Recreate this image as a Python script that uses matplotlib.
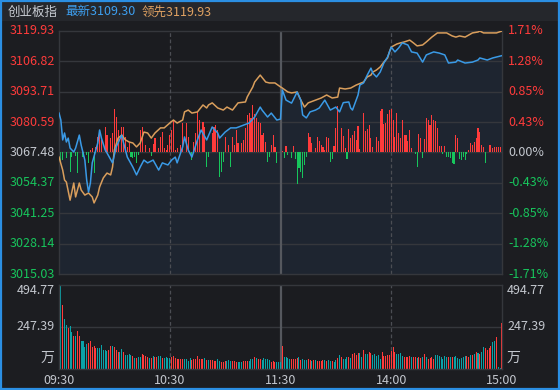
import matplotlib
matplotlib.use('Agg')
import matplotlib.pyplot as plt
from matplotlib.patches import Rectangle

plt.rcParams['font.family'] = ['Noto Sans CJK SC', 'DejaVu Sans']

# ---------------- data ----------------
prev_close = 3067.48
price_ticks = [3119.93, 3106.82, 3093.71, 3080.59, 3067.48, 3054.37, 3041.25, 3028.14, 3015.03]
pct_ticks = ['1.71%', '1.28%', '0.85%', '0.43%', '0.00%', '-0.43%', '-0.85%', '-1.28%', '-1.71%']
vol_ticks = ['494.77', '247.39']
vol_max = 494.77
time_labels = ['09:30', '10:30', '11:30', '14:00', '15:00']
time_minutes = [0, 60, 120, 180, 240]
title_name = '创业板指'
title_last = '最新3109.30'
title_lead = '领先3119.93'

blue_t = [0, 1, 2, 3, 4, 5, 6, 8, 9, 11, 12, 14, 15, 16, 17, 18, 21, 22, 23, 25, 26, 29, 31, 34, 35, 37,
          40, 42, 44, 46, 48, 51, 54, 56, 59, 61, 63, 64, 67, 68, 70, 72, 75, 77, 80, 83, 86, 87, 90, 93,
          96, 100, 103, 106, 109, 110, 113, 115, 118, 120, 121, 123, 126, 129, 131, 132, 134, 136, 139,
          141, 144, 147, 150, 152, 154, 157, 158, 159, 162, 163, 165, 167, 169, 170, 172, 174, 176, 178,
          180, 182, 184, 186, 189, 191, 194, 197, 199, 203, 206, 209, 211, 215, 216, 220, 224, 227, 228,
          232, 235, 240]
blue_p = [3084.5, 3081.5, 3072.9, 3075.9, 3072.0, 3073.7, 3069.4, 3067.7, 3069.4, 3075.0, 3070.7, 3064.2,
          3055.6, 3050.4, 3054.3, 3063.0, 3071.6, 3077.2, 3073.7, 3068.6, 3067.3, 3063.0, 3069.9, 3075.0,
          3071.6, 3065.5, 3061.2, 3057.8, 3061.2, 3064.2, 3063.0, 3064.2, 3059.9, 3063.0, 3062.1, 3064.2,
          3065.5, 3063.0, 3069.9, 3074.2, 3068.6, 3065.5, 3072.9, 3077.2, 3072.9, 3078.5, 3075.9, 3073.7,
          3076.3, 3078.1, 3078.1, 3079.3, 3080.2, 3082.8, 3087.1, 3085.8, 3082.8, 3084.5, 3081.5, 3081.9,
          3094.5, 3090.1, 3088.8, 3093.6, 3090.1, 3083.7, 3082.4, 3085.0, 3085.8, 3086.7, 3090.1, 3085.8,
          3087.1, 3085.0, 3089.0, 3089.3, 3086.7, 3085.8, 3092.3, 3096.6, 3097.5, 3100.9, 3103.9, 3101.8,
          3100.1, 3102.2, 3106.1, 3108.7, 3113.0, 3110.9, 3112.6, 3114.8, 3113.9, 3110.9, 3110.4, 3106.5,
          3109.6, 3110.9, 3110.4, 3109.6, 3106.1, 3106.5, 3107.4, 3106.1, 3106.5, 3107.4, 3108.3, 3107.4,
          3108.3, 3109.30]

orange_t = [0, 2, 3, 4, 6, 8, 9, 11, 12, 14, 16, 18, 19, 21, 22, 24, 26, 28, 29, 30, 32, 34, 36, 38, 40,
            42, 44, 46, 48, 50, 52, 55, 57, 60, 62, 64, 67, 68, 70, 72, 75, 78, 80, 81, 83, 86, 89, 91, 94,
            97, 101, 102, 105, 106, 109, 112, 114, 117, 120, 121, 124, 126, 129, 131, 133, 135, 139, 142,
            145, 148, 151, 152, 155, 158, 161, 165, 167, 169, 170, 172, 174, 176, 178, 179, 180, 183, 185,
            187, 190, 192, 194, 197, 199, 202, 205, 208, 210, 213, 215, 217, 220, 222, 224, 227, 228, 230,
            234, 237, 240]
orange_p = [3065.5, 3059.9, 3055.6, 3054.7, 3046.9, 3054.3, 3048.3, 3054.3, 3051.3, 3049.1, 3050.0,
            3048.3, 3045.7, 3049.1, 3052.6, 3056.5, 3058.6, 3057.8, 3061.2, 3068.6, 3073.7, 3075.0,
            3072.9, 3072.0, 3071.6, 3069.9, 3071.6, 3076.3, 3075.9, 3073.7, 3075.9, 3078.1, 3078.1,
            3080.2, 3081.5, 3080.2, 3081.5, 3085.0, 3085.8, 3084.5, 3085.0, 3088.0, 3086.7, 3088.0,
            3088.9, 3086.7, 3085.8, 3087.1, 3085.8, 3088.9, 3089.3, 3091.5, 3095.8, 3097.9, 3100.9,
            3097.9, 3097.5, 3097.5, 3095.8, 3095.3, 3093.6, 3093.2, 3093.6, 3090.1, 3087.1, 3088.9,
            3090.1, 3091.0, 3092.3, 3091.0, 3091.4, 3095.3, 3094.9, 3095.3, 3096.6, 3097.9, 3100.1,
            3100.9, 3102.2, 3103.1, 3104.4, 3106.5, 3108.3, 3110.9, 3113.0, 3114.3, 3114.8, 3115.2,
            3116.0, 3114.8, 3113.5, 3113.9, 3115.2, 3117.3, 3119.1, 3119.1, 3119.1, 3117.8, 3117.3,
            3117.8, 3117.3, 3118.2, 3119.1, 3119.5, 3119.9, 3119.1, 3119.1, 3119.1, 3119.93]

bar_t = [1, 2, 4, 6, 7, 9, 10, 13, 15, 16, 17, 18, 19, 20, 21, 22, 23, 25, 26, 28, 29, 30, 31, 32, 34, 35,
         36, 37, 38, 39, 40, 41, 42, 43, 44, 45, 47, 49, 50, 51, 52, 54, 55, 56, 57, 58, 59, 60, 61, 62, 63,
         64, 66, 67, 69, 70, 72, 73, 74, 75, 76, 78, 79, 80, 81, 83, 84, 85, 86, 87, 88, 89, 90, 92, 93, 94,
         95, 96, 97, 99, 100, 101, 102, 103, 104, 105, 106, 107, 108, 109, 110, 111, 112, 113, 114, 115,
         116, 117, 118, 121, 122, 123, 124, 126, 127, 128, 129, 130, 131, 132, 133, 134, 135, 136, 137,
         139, 140, 141, 142, 143, 144, 145, 146, 147, 148, 149, 150, 151, 153, 154, 155, 156, 157, 158,
         159, 160, 161, 162, 163, 165, 166, 167, 168, 169, 170, 172, 173, 174, 175, 176, 177, 178, 179,
         180, 181, 182, 183, 184, 185, 186, 187, 188, 189, 190, 191, 193, 194, 195, 196, 197, 198, 199,
         200, 201, 202, 203, 204, 205, 206, 207, 208, 209, 210, 211, 212, 213, 214, 215, 216, 217, 218,
         219, 220, 221, 222, 223, 224, 225, 226, 227, 228, 229, 230, 231, 232, 233, 234, 235, 236, 237,
         238, 239]
bar_v = [-4.5, -3.2, -2.4, -8.4, -1.9, -1.5, -8.8, -1.9, -1.1, -4.5, 1.1, 1.9, -8.8, 2.4, 6.7, 8.4, 5.4,
         11.0, 7.6, 6.3, 8.4, 18.8, 15.3, 9.7, 11.0, 11.0, 6.7, 2.4, 4.1, -1.9, -2.4, -1.9, -4.5, -1.1,
         9.7, 11.0, 3.2, 1.9, -1.5, 3.7, 6.3, 1.9, 6.7, 8.8, 1.9, 1.1, 3.2, 7.6, 9.7, 14.0, 1.1, 1.9, 3.2,
         12.7, 12.7, 6.7, -3.2, 4.5, 8.4, 17.5, 14.0, 13.2, 11.0, -6.3, -1.9, 8.4, 11.0, 11.9, 9.7, -10.6,
         -8.4, -4.1, 6.7, 3.2, -6.3, 6.7, 3.2, 9.7, 4.1, 4.1, 5.4, 10.6, 16.2, 17.1, 14.9, 20.5, 16.6,
         14.9, 13.2, 12.7, 7.6, 8.4, 4.5, -4.1, -1.9, 3.2, 7.6, 2.4, -4.5, 0.5, -2.4, 2.8, -1.1, -2.4,
         2.8, -2.8, -13.6, -6.7, -8.4, -11.0, -5.4, -1.9, 8.4, 6.7, 4.1, 1.9, 6.7, 5.0, 3.2, 2.4, 1.0,
         6.7, 6.3, -4.1, -2.8, 2.8, 10.6, 20.1, 10.6, 7.1, 1.9, -2.8, 10.1, 6.3, 7.6, 9.3, 5.4, 11.4, 1.5,
         17.1, 9.3, 10.1, 11.9, 6.3, 2.4, 6.7, 5.0, 17.9, 18.8, 12.3, 12.7, 16.6, 18.3, 18.8, 14.0, 6.7,
         17.1, 8.4, 6.3, 14.0, 7.6, 7.6, 5.0, 9.7, 1.9, -0.6, -6.3, 8.0, 6.3, -2.4, 5.8, 14.9, 14.0, 11.9,
         16.2, 14.0, 13.6, 10.6, 2.8, 2.8, -0.6, 2.8, -1.9, -1.9, -2.4, -4.5, -5.0, 7.6, 6.3, -2.8, -3.2,
         -1.9, -3.2, -0.6, 1.1, 4.1, 3.2, 4.5, 6.3, 10.6, 8.8, 3.2, 2.4, -4.5, 0.3, 3.2, 3.2, 1.9, 2.4,
         2.4, 2.4, 2.4]

vol_am = [135, 494.7, 377, 294, 259, 243, 253, 220, 194, 194,
          224, 194, 165, 165, 131, 147, 155, 165, 131, 137,
          126, 126, 126, 141, 112, 112, 108, 112, 137, 135,
          131, 112, 102, 102, 118, 102, 82, 82, 88, 82,
          77, 63, 63, 73, 73, 88, 82, 77, 69, 63,
          63, 77, 69, 69, 77, 77, 63, 63, 73, 67,
          63, 73, 77, 63, 59, 59, 59, 59, 59, 59,
          47, 63, 53, 59, 59, 77, 59, 59, 59, 63,
          53, 53, 53, 53, 47, 47, 59, 47, 43, 43,
          47, 47, 53, 47, 47, 47, 43, 43, 43, 43,
          47, 47, 47, 47, 59, 59, 73, 63, 59, 59,
          53, 67, 59, 59, 53, 43, 47, 43, 43, 43, 43]
dir_am = ['W', 'T', 'R', 'T', 'T', 'R', 'T', 'T', 'R', 'T',
          'R', 'R', 'T', 'T', 'T', 'T', 'R', 'R', 'R', 'R',
          'R', 'T', 'T', 'T', 'T', 'T', 'T', 'R', 'R', 'T',
          'R', 'R', 'R', 'T', 'T', 'R', 'T', 'T', 'T', 'T',
          'R', 'T', 'R', 'T', 'T', 'R', 'R', 'R', 'R', 'T',
          'R', 'T', 'R', 'R', 'T', 'T', 'R', 'T', 'T', 'T',
          'T', 'R', 'R', 'R', 'R', 'R', 'R', 'R', 'T', 'T',
          'T', 'T', 'R', 'R', 'R', 'R', 'R', 'R', 'R', 'T',
          'R', 'T', 'R', 'R', 'R', 'R', 'T', 'T', 'R', 'R',
          'R', 'T', 'T', 'T', 'R', 'R', 'R', 'T', 'T', 'T',
          'R', 'R', 'R', 'T', 'T', 'T', 'R', 'T', 'R', 'R',
          'T', 'T', 'T', 'T', 'T', 'R', 'R', 'R', 'T', 'T', 'T']
vol_pm = [135, 69, 69, 63, 59, 59, 59, 59, 63, 69,
          53, 59, 53, 53, 59, 53, 47, 53, 53, 47,
          47, 47, 53, 53, 47, 53, 47, 47, 43, 53,
          67, 82, 69, 59, 59, 69, 69, 63, 88, 92,
          82, 96, 92, 69, 112, 88, 88, 102, 96, 82,
          88, 77, 82, 59, 102, 77, 77, 82, 82, 108,
          127, 102, 88, 88, 96, 77, 69, 73, 69, 77,
          69, 73, 69, 63, 73, 63, 69, 88, 69, 59,
          63, 69, 59, 82, 82, 77, 69, 59, 77, 69,
          69, 73, 69, 73, 77, 63, 59, 67, 69, 77,
          77, 73, 82, 82, 88, 102, 96, 88, 102, 128,
          122, 112, 122, 135, 161, 167, 187, 10, 4, 269]
dir_pm = ['R', 'T', 'T', 'T', 'T', 'R', 'R', 'R', 'R', 'T',
          'R', 'T', 'T', 'T', 'R', 'R', 'T', 'R', 'T', 'R',
          'R', 'R', 'R', 'T', 'R', 'T', 'T', 'R', 'T', 'T',
          'R', 'T', 'R', 'T', 'T', 'T', 'R', 'T', 'R', 'R',
          'R', 'R', 'T', 'T', 'R', 'T', 'T', 'R', 'R', 'T',
          'T', 'T', 'T', 'T', 'R', 'R', 'R', 'R', 'R', 'R',
          'R', 'R', 'T', 'T', 'T', 'T', 'R', 'R', 'R', 'R',
          'T', 'R', 'R', 'T', 'R', 'R', 'T', 'R', 'T', 'R',
          'R', 'R', 'R', 'T', 'T', 'T', 'T', 'T', 'T', 'T',
          'R', 'T', 'R', 'T', 'T', 'T', 'T', 'T', 'T', 'T',
          'R', 'R', 'T', 'R', 'T', 'R', 'T', 'R', 'T', 'T',
          'R', 'R', 'R', 'R', 'T', 'T', 'R', 'T', 'T', 'R']

# ---------------- styling ----------------
BG = '#1c1d21'
CHART_BG = '#1b1c20'
FILL = '#1e2530'
GRID = '#35373c'
RED = '#ff3b3b'
GREEN = '#17c55c'
TEAL = '#0aa3a8'
BLUE = '#3a9ae6'
ORANGE = '#d99e5c'
GREY_TXT = '#c3c7ce'
FS = 9

W, H = 560, 390
fig = plt.figure(figsize=(W / 100, H / 100), dpi=100, facecolor=BG)


def fx(x):
    return x / W


def fy(y):
    return 1 - y / H


# title bar + border
fig.patches.append(Rectangle((0, fy(21)), 1, 1 - fy(21), transform=fig.transFigure,
                             facecolor='#25272c', edgecolor='none', zorder=0))
fig.patches.append(Rectangle((0.0015, 0.002), 0.997, 0.996, transform=fig.transFigure,
                             facecolor='none', edgecolor='#2b8fe3', lw=1.6, zorder=10))

fig.text(fx(8), fy(12), title_name, color='#c8ccd3', fontsize=FS, va='center', ha='left')
fig.text(fx(65), fy(12), title_last, color='#3d9ff0', fontsize=FS, va='center', ha='left')
fig.text(fx(142), fy(12), title_lead, color='#e0a262', fontsize=FS, va='center', ha='left')

L, R = 59, 502
# ---------------- main axes ----------------
ax = fig.add_axes([fx(L), fy(274), fx(R) - fx(L), fy(31) - fy(274)])
ax.set_facecolor(CHART_BG)
ax.set_xlim(0, 240)
ax.set_ylim(price_ticks[-1], price_ticks[0])
ax.set_xticks([])
ax.set_yticks([])
for s in ax.spines.values():
    s.set_color(GRID)
    s.set_linewidth(1)

ax.fill_between(blue_t, blue_p, price_ticks[-1], color=FILL, lw=0, zorder=0.5)
for p in price_ticks[1:-1]:
    ax.axhline(p, color=GRID, lw=1, zorder=1)
for m in (60, 180):
    ax.axvline(m, color='#4b4d53', lw=0.9, ls=(0, (3, 2)), zorder=1)
ax.axvline(120, color='#55585e', lw=1.6, zorder=1)

bar_colors = [RED if v > 0 else GREEN for v in bar_v]
ax.bar(bar_t, bar_v, bottom=prev_close, width=0.6, color=bar_colors, lw=0, zorder=2,
       antialiased=False)
ax.plot(orange_t, orange_p, color=ORANGE, lw=1.1, zorder=3)
ax.plot(blue_t, blue_p, color=BLUE, lw=1.1, zorder=4)

# price / pct labels
for i, (p, pc) in enumerate(zip(price_ticks, pct_ticks)):
    y = 31 + i * (274 - 31) / 8
    if p > prev_close + 0.001:
        c = RED
    elif p < prev_close - 0.001:
        c = GREEN
    else:
        c = GREY_TXT
    fig.text(fx(55), fy(y), f'{p:.2f}', color=c, fontsize=FS, ha='right', va='center')
    fig.text(fx(508), fy(y), pc, color=c, fontsize=FS, ha='left', va='center')

# ---------------- volume axes ----------------
vx = fig.add_axes([fx(L), fy(369), fx(R) - fx(L), fy(285) - fy(369)])
vx.set_facecolor(CHART_BG)
vx.set_xlim(0, 240)
vx.set_ylim(0, vol_max)
vx.set_xticks([])
vx.set_yticks([])
for s in vx.spines.values():
    s.set_color(GRID)
    s.set_linewidth(1)
vx.axhline(vol_max / 2, color=GRID, lw=1, zorder=1)
for m in (60, 180):
    vx.axvline(m, color='#4b4d53', lw=0.9, ls=(0, (3, 2)), zorder=1)
vx.axvline(120, color='#55585e', lw=1.6, zorder=1)

vols = vol_am + vol_pm
dirs = dir_am + dir_pm
cmap = {'R': RED, 'T': TEAL, 'W': '#e8e8e8'}
vx.bar(list(range(len(vols))), vols, width=0.55, color=[cmap[d] for d in dirs], lw=0, zorder=2,
       antialiased=False)

for lab, y in zip(vol_ticks, (290, 327)):
    fig.text(fx(55), fy(y), lab, color=GREY_TXT, fontsize=FS, ha='right', va='center')
    fig.text(fx(507), fy(y), lab, color=GREY_TXT, fontsize=FS, ha='left', va='center')
fig.text(fx(54), fy(358), '万', color=GREY_TXT, fontsize=FS + 1, ha='right', va='center')
fig.text(fx(507), fy(358), '万', color=GREY_TXT, fontsize=FS + 1, ha='left', va='center')

for lab, m in zip(time_labels, time_minutes):
    x = L + m * (R - L) / 240
    fig.text(fx(x), fy(381), lab, color=GREY_TXT, fontsize=FS, ha='center', va='center')

fig.savefig('out.png', dpi=100, facecolor=BG)
